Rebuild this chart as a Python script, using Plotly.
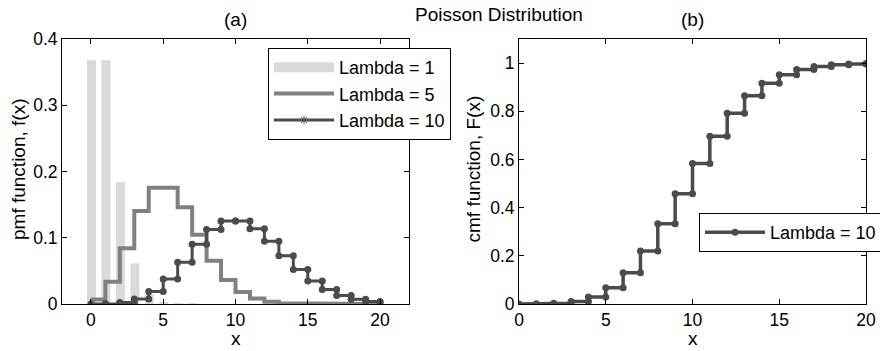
import plotly.graph_objects as go

W, H = 880, 351

# ---- data ----
x_vals = list(range(21))
pmf_lambda1 = [0.3679, 0.3679, 0.1839, 0.0613, 0.0153, 0.0031, 0.0005, 0.0001, 0.0, 0.0,
               0.0, 0.0, 0.0, 0.0, 0.0, 0.0, 0.0, 0.0, 0.0, 0.0, 0.0]
pmf_lambda5 = [0.0067, 0.0337, 0.0842, 0.1404, 0.1755, 0.1755, 0.1462, 0.1044, 0.0653, 0.0363,
               0.0181, 0.0082, 0.0034, 0.0013, 0.0005, 0.0002, 0.0001, 0.0, 0.0, 0.0, 0.0]
pmf_lambda10 = [0.0000, 0.0005, 0.0023, 0.0076, 0.0189, 0.0378, 0.0631, 0.0901, 0.1126, 0.1251,
                0.1251, 0.1137, 0.0948, 0.0729, 0.0521, 0.0347, 0.0217, 0.0128, 0.0071, 0.0037, 0.0019]
cdf_lambda10 = [0.0000, 0.0005, 0.0028, 0.0103, 0.0293, 0.0671, 0.1301, 0.2202, 0.3328, 0.4579,
                0.5830, 0.6968, 0.7916, 0.8645, 0.9165, 0.9513, 0.9730, 0.9857, 0.9928, 0.9965, 0.9984]
xticks = [0, 5, 10, 15, 20]
yticks_a = [0, 0.1, 0.2, 0.3, 0.4]
yticks_b = [0, 0.2, 0.4, 0.6, 0.8, 1]


def stairs(xs, ys):
    """MATLAB-style stairs vertices."""
    sx, sy = [xs[0]], [ys[0]]
    for i in range(1, len(xs)):
        sx += [xs[i], xs[i]]
        sy += [ys[i - 1], ys[i]]
    return sx, sy


FONT = "Liberation Sans, Arial, Helvetica, sans-serif"
C1, C5, C10 = "#d9d9d9", "#808080", "#4b4b4b"

fig = go.Figure()

fig.add_trace(go.Bar(x=x_vals, y=pmf_lambda1, width=0.62, offset=-0.27,
                     marker=dict(color=C1, line=dict(width=0)),
                     name="Lambda = 1", showlegend=False, xaxis="x", yaxis="y"))
# legend entry drawn as a wide patch like the reference
fig.add_trace(go.Scatter(x=[None], y=[None], mode="lines", line=dict(color=C1, width=20),
                         name="Lambda = 1", xaxis="x", yaxis="y", legend="legend"))
s5x, s5y = stairs(x_vals, pmf_lambda5)
fig.add_trace(go.Scatter(x=s5x, y=s5y, mode="lines", line=dict(color=C5, width=4),
                         name="Lambda = 5", xaxis="x", yaxis="y", legend="legend"))
s10x, s10y = stairs(x_vals, pmf_lambda10)
fig.add_trace(go.Scatter(x=s10x, y=s10y, mode="lines+markers",
                         line=dict(color=C10, width=3), marker=dict(size=7, color=C10),
                         name="Lambda = 10", showlegend=False, xaxis="x", yaxis="y"))
# legend entry as in the reference (line with small star marker)
fig.add_trace(go.Scatter(x=[None], y=[None], mode="lines+markers",
                         line=dict(color=C10, width=3),
                         marker=dict(size=7, symbol="asterisk-open", color=C10,
                                     line=dict(width=1, color=C10)),
                         name="Lambda = 10", xaxis="x", yaxis="y", legend="legend"))

scx, scy = stairs(x_vals, cdf_lambda10)
fig.add_trace(go.Scatter(x=scx, y=scy, mode="lines+markers",
                         line=dict(color=C10, width=3.5), marker=dict(size=7, color=C10),
                         name="Lambda = 10", xaxis="x2", yaxis="y2", legend="legend2"))

ax_common = dict(showline=True, linecolor="black", linewidth=1, mirror="ticks",
                 ticks="inside", ticklen=5, tickcolor="black", showgrid=False,
                 zeroline=False, tickfont=dict(size=17.5, color="black", family=FONT))

yb, yt = 1 - 304 / H, 1 - 39 / H
fig.update_layout(
    width=W, height=H, margin=dict(l=0, r=0, t=0, b=0, autoexpand=False),
    paper_bgcolor="white", plot_bgcolor="white",
    font=dict(family=FONT, color="black"),
    xaxis=dict(domain=[62 / W, 409 / W], range=[-2, 22], tickvals=xticks, anchor="y", **ax_common),
    yaxis=dict(domain=[yb, yt], range=[0, 0.4], tickvals=yticks_a, anchor="x", **ax_common),
    xaxis2=dict(domain=[519 / W, 866 / W], range=[0, 20], tickvals=xticks, anchor="y2", **ax_common),
    yaxis2=dict(domain=[yb, yt], range=[0, 1.1], tickvals=yticks_b, anchor="x2", **ax_common),
    legend=dict(x=268 / W, y=1 - 48 / H, xanchor="left", yanchor="top",
                bordercolor="black", borderwidth=1, bgcolor="white",
                font=dict(size=18, family=FONT, color="black"), itemwidth=60),
    legend2=dict(x=699 / W, y=1 - 213 / H, xanchor="left", yanchor="top",
                 bordercolor="black", borderwidth=1, bgcolor="white",
                 font=dict(size=18, family=FONT, color="black"), itemwidth=60),
    showlegend=True,
)

ann = dict(xref="paper", yref="paper", showarrow=False, xanchor="center", yanchor="middle")
fig.add_annotation(text="Poisson Distribution", x=498.5 / W, y=1 - 14 / H, font=dict(size=19), **ann)
fig.add_annotation(text="(a)", x=235.5 / W, y=1 - 20 / H, font=dict(size=19), **ann)
fig.add_annotation(text="(b)", x=692.5 / W, y=1 - 20 / H, font=dict(size=19), **ann)
bot = dict(xref="paper", yref="paper", showarrow=False, xanchor="center", yanchor="bottom")
fig.add_annotation(text="x", x=235.5 / W, y=0, font=dict(size=19), **bot)
fig.add_annotation(text="x", x=692.5 / W, y=0, font=dict(size=19), **bot)
fig.add_annotation(text="pmf function, f(x)", x=19 / W, y=1 - 169 / H, textangle=-90,
                   font=dict(size=19), **ann)
fig.add_annotation(text="cmf function, F(x)", x=473.5 / W, y=1 - 169 / H, textangle=-90,
                   font=dict(size=19), **ann)

fig.write_html("out.html")
